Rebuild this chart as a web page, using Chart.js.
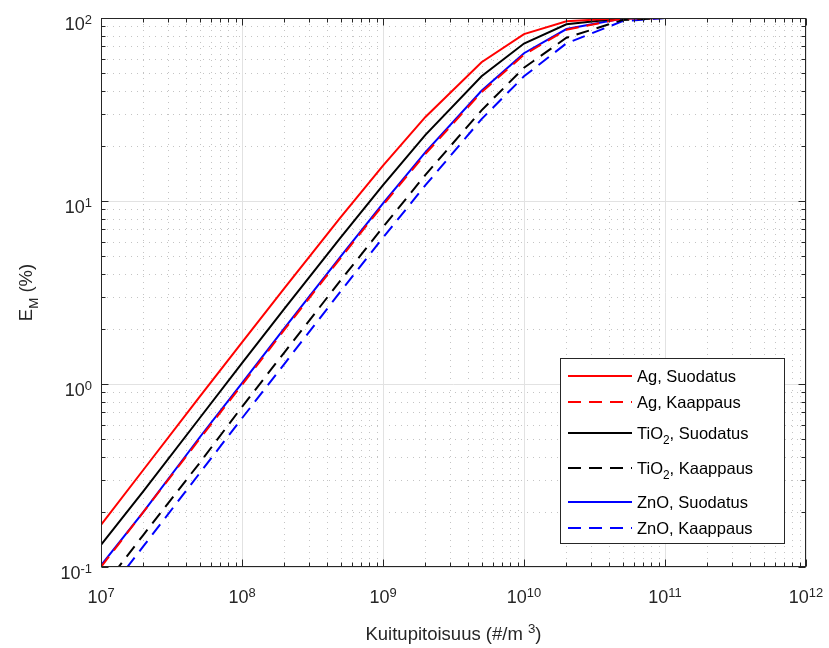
<!DOCTYPE html>
<html>
<head>
<meta charset="utf-8">
<script src="https://cdn.jsdelivr.net/npm/chart.js@4.4.1/dist/chart.umd.min.js"></script>
<style>
  body { margin: 0; background: #fff; }
  #wrap { width: 829px; height: 648px; }
</style>
</head>
<body>
<div id="wrap"><canvas id="myChart"></canvas></div>
<script>
// fibre concentration (#/m3)
const concentration = [1e7, 2e7, 5e7, 1e8, 2e8, 5e8, 1e9, 2e9, 5e9, 1e10, 2e10, 5e10, 1e11, 2e11, 5e11, 1e12];

// E_M (%)
const agSuodatus   = [0.17, 0.34, 0.85, 1.69, 3.34, 8.15, 15.6, 28.8, 57.3, 81.7, 96.0, 99.9, 100, 100, 100, 100];
const agKaappaus   = [0.10, 0.20, 0.50, 0.99, 1.98, 4.88, 9.5, 18.1, 39.3, 63.0, 86.3, 99.3, 100, 100, 100, 100];
const tioSuodatus  = [0.132, 0.26, 0.65, 1.30, 2.58, 6.3, 12.2, 23.0, 48.0, 72.5, 92.4, 99.8, 100, 100, 100, 100];
const tioKaappaus  = [0.075, 0.15, 0.37, 0.75, 1.49, 3.68, 7.2, 13.9, 31.3, 53.5, 78.0, 97.6, 99.9, 100, 100, 100];
const znoSuodatus  = [0.102, 0.20, 0.51, 1.01, 2.02, 4.97, 9.7, 18.5, 40.0, 64.2, 87.0, 99.4, 100, 100, 100, 100];
const znoKaappaus  = [0.065, 0.13, 0.325, 0.65, 1.29, 3.2, 6.3, 12.2, 28.0, 48.0, 72.7, 96.1, 99.85, 100, 100, 100];

const xTickExps = [7, 8, 9, 10, 11, 12];
const yTickExps = [-1, 0, 1, 2];

const DASH = [13, 8];
const FONT = '"Liberation Sans", Arial, sans-serif';

function pts(ys) {
  return concentration.map((x, i) => ({ x: x, y: ys[i] }));
}

function series(label, ys, color, dashed) {
  return {
    label: label,
    data: pts(ys),
    borderColor: color,
    borderWidth: 2,
    borderDash: dashed ? DASH : [],
    pointRadius: 0,
    tension: 0,
    fill: false,
  };
}

// label with sub/superscript parts: [[text, mode]] mode: 0 normal, 1 sup, -1 sub
function richWidth(ctx, parts, size) {
  let w = 0;
  parts.forEach(p => {
    ctx.font = (p[1] ? size * 0.72 : size) + "px " + FONT;
    w += ctx.measureText(p[0]).width;
  });
  return w;
}
function richDraw(ctx, parts, x, y, size) {
  parts.forEach(p => {
    const s = p[1] ? size * 0.72 : size;
    ctx.font = s + "px " + FONT;
    let dy = 0;
    if (p[1] === 1) dy = -size * 0.36;
    if (p[1] === -1) dy = size * 0.3;
    ctx.fillText(p[0], x, y + dy);
    x += ctx.measureText(p[0]).width;
  });
}

const matlabAxes = {
  id: "matlabAxes",
  beforeDatasetsDraw(chart) {
    const ctx = chart.ctx;
    const a = chart.chartArea;
    const xs = chart.scales.x, ys = chart.scales.y;
    ctx.save();
    ctx.lineWidth = 1;
    // minor grid, dotted
    ctx.strokeStyle = "#c4c4c4";
    ctx.setLineDash([1, 5]);
    for (let e = xTickExps[0]; e < xTickExps[xTickExps.length - 1]; e++) {
      for (let m = 2; m <= 9; m++) {
        const px = Math.round(xs.getPixelForValue(m * Math.pow(10, e))) + 0.5;
        ctx.beginPath(); ctx.moveTo(px, a.top); ctx.lineTo(px, a.bottom); ctx.stroke();
      }
    }
    for (let e = yTickExps[0]; e < yTickExps[yTickExps.length - 1]; e++) {
      for (let m = 2; m <= 9; m++) {
        const py = Math.round(ys.getPixelForValue(m * Math.pow(10, e))) + 0.5;
        ctx.beginPath(); ctx.moveTo(a.left, py); ctx.lineTo(a.right, py); ctx.stroke();
      }
    }
    // major grid
    ctx.setLineDash([]);
    ctx.strokeStyle = "#e2e2e2";
    xTickExps.forEach(e => {
      const px = Math.round(xs.getPixelForValue(Math.pow(10, e))) + 0.5;
      ctx.beginPath(); ctx.moveTo(px, a.top); ctx.lineTo(px, a.bottom); ctx.stroke();
    });
    yTickExps.forEach(e => {
      const py = Math.round(ys.getPixelForValue(Math.pow(10, e))) + 0.5;
      ctx.beginPath(); ctx.moveTo(a.left, py); ctx.lineTo(a.right, py); ctx.stroke();
    });
    ctx.restore();
  },
  afterDatasetsDraw(chart) {
    const ctx = chart.ctx;
    const a = chart.chartArea;
    const xs = chart.scales.x, ys = chart.scales.y;
    ctx.save();
    ctx.strokeStyle = "#262626";
    ctx.lineWidth = 1;
    ctx.setLineDash([]);
    const L = Math.round(a.left) + 0.5, R = Math.round(a.right) - 0.5;
    const T = Math.round(a.top) + 0.5, B = Math.round(a.bottom) - 0.5;
    ctx.strokeRect(L, T, R - L, B - T);

    // tick marks, inward, on all sides
    function xTick(v, len) {
      const px = Math.round(xs.getPixelForValue(v)) + 0.5;
      ctx.beginPath();
      ctx.moveTo(px, B); ctx.lineTo(px, B - len);
      ctx.moveTo(px, T); ctx.lineTo(px, T + len);
      ctx.stroke();
    }
    function yTick(v, len) {
      const py = Math.round(ys.getPixelForValue(v)) + 0.5;
      ctx.beginPath();
      ctx.moveTo(L, py); ctx.lineTo(L + len, py);
      ctx.moveTo(R, py); ctx.lineTo(R - len, py);
      ctx.stroke();
    }
    for (let e = xTickExps[0]; e <= xTickExps[xTickExps.length - 1]; e++) {
      xTick(Math.pow(10, e), 7);
      if (e < xTickExps[xTickExps.length - 1]) for (let m = 2; m <= 9; m++) xTick(m * Math.pow(10, e), 4);
    }
    for (let e = yTickExps[0]; e <= yTickExps[yTickExps.length - 1]; e++) {
      yTick(Math.pow(10, e), 7);
      if (e < yTickExps[yTickExps.length - 1]) for (let m = 2; m <= 9; m++) yTick(m * Math.pow(10, e), 4);
    }

    // tick labels
    ctx.fillStyle = "#262626";
    ctx.textAlign = "left";
    ctx.textBaseline = "alphabetic";
    const size = 18;
    xTickExps.forEach(e => {
      const parts = [["10", 0], [String(e), 1]];
      const w = richWidth(ctx, parts, size);
      const px = xs.getPixelForValue(Math.pow(10, e));
      richDraw(ctx, parts, px - w / 2, 603, size);
    });
    yTickExps.forEach(e => {
      const parts = [["10", 0], [String(e), 1]];
      const w = richWidth(ctx, parts, size);
      const py = ys.getPixelForValue(Math.pow(10, e));
      richDraw(ctx, parts, 92 - w, py + 12, size);
    });

    // axis titles
    const xt = [["Kuitupitoisuus (#/m ", 0], ["3", 1], [")", 0]];
    const xw = richWidth(ctx, xt, 18.5);
    richDraw(ctx, xt, (a.left + a.right) / 2 - xw / 2, 640, 18.5);

    const yt = [["E", 0], ["M", -1], [" (%)", 0]];
    const yw = richWidth(ctx, yt, 18.5);
    ctx.save();
    ctx.translate(32, (a.top + a.bottom) / 2);
    ctx.rotate(-Math.PI / 2);
    richDraw(ctx, yt, -yw / 2, 0, 18.5);
    ctx.restore();

    // legend box
    const lx = 560.5, ly = 358.5, lw = 224, lh = 185;
    ctx.fillStyle = "#fff";
    ctx.fillRect(lx, ly, lw, lh);
    ctx.strokeStyle = "#262626";
    ctx.strokeRect(lx, ly, lw, lh);
    const rows = [376, 402, 433, 468, 502, 528];
    const labels = [
      [["Ag, Suodatus", 0]],
      [["Ag, Kaappaus", 0]],
      [["TiO", 0], ["2", -1], [", Suodatus", 0]],
      [["TiO", 0], ["2", -1], [", Kaappaus", 0]],
      [["ZnO, Suodatus", 0]],
      [["ZnO, Kaappaus", 0]],
    ];
    chart.data.datasets.forEach((ds, i) => {
      const y = rows[i];
      ctx.strokeStyle = ds.borderColor;
      ctx.lineWidth = 2;
      ctx.setLineDash(ds.borderDash);
      ctx.beginPath(); ctx.moveTo(568, y); ctx.lineTo(632, y); ctx.stroke();
      ctx.setLineDash([]);
      ctx.fillStyle = "#000";
      richDraw(ctx, labels[i], 637, y + 6, 16.5);
    });
    ctx.restore();
  },
};

new Chart(document.getElementById("myChart"), {
  type: "line",
  data: {
    datasets: [
      series("Ag, Suodatus", agSuodatus, "#ff0000", false),
      series("Ag, Kaappaus", agKaappaus, "#ff0000", true),
      series("TiO2, Suodatus", tioSuodatus, "#000000", false),
      series("TiO2, Kaappaus", tioKaappaus, "#000000", true),
      series("ZnO, Suodatus", znoSuodatus, "#0000ff", false),
      series("ZnO, Kaappaus", znoKaappaus, "#0000ff", true),
    ],
  },
  options: {
    animation: false,
    responsive: true,
    maintainAspectRatio: false,
    layout: { padding: { left: 101, right: 23, top: 18, bottom: 81 } },
    plugins: {
      legend: { display: false },
      tooltip: { enabled: false },
    },
    scales: {
      x: { type: "logarithmic", min: 1e7, max: 1e12, display: false },
      y: { type: "logarithmic", min: 0.1, max: 100, display: false },
    },
  },
  plugins: [matlabAxes],
});
</script>
</body>
</html>
